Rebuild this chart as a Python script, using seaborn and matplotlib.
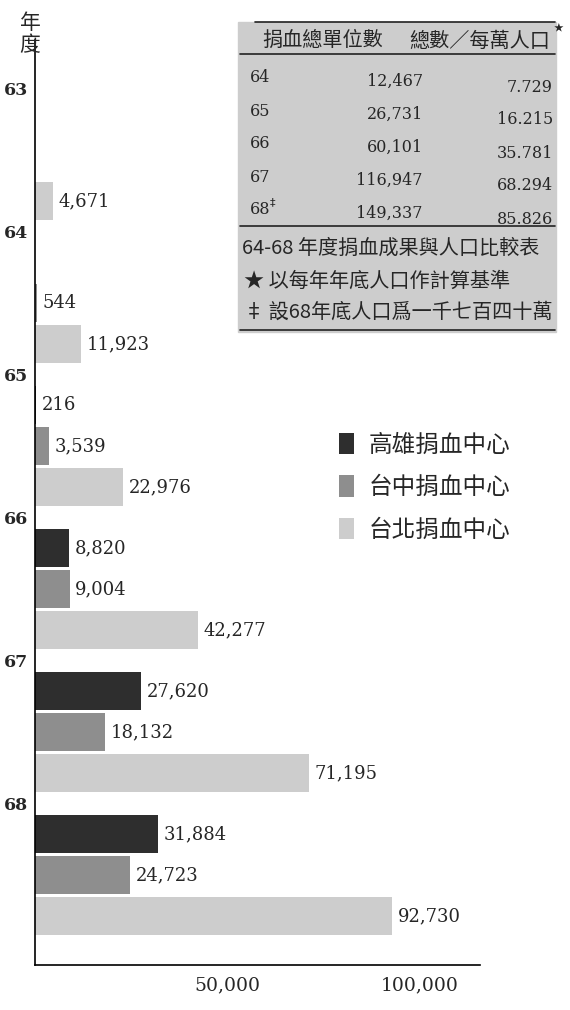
import numpy as np
import pandas as pd
import matplotlib
matplotlib.use('Agg')
from matplotlib import pyplot as plt
from matplotlib.patches import Rectangle
import seaborn as sns

# bar chart data (units of blood collected per center per year)
years = ['63', '64', '65', '66', '67', '68']
centers = ['高雄捐血中心', '台中捐血中心', '台北捐血中心']
kaohsiung = [np.nan, np.nan, 216, 8820, 27620, 31884]
taichung = [np.nan, 544, 3539, 9004, 18132, 24723]
taipei = [4671, 11923, 22976, 42277, 71195, 92730]

# comparison table
tbl_years = ['64', '65', '66', '67', '68']
tbl_totals = ['12,467', '26,731', '60,101', '116,947', '149,337']
tbl_per10k = ['7.729', '16.215', '35.781', '68.294', '85.826']

sns.set_style('white')
plt.rcParams['font.family'] = ['Noto Sans CJK TC', 'DejaVu Sans']
serif = 'DejaVu Serif'

df = pd.DataFrame({
    '年度': years * 3,
    '中心': np.repeat(centers, len(years)),
    '單位數': kaohsiung + taichung + taipei,
}).dropna()

palette = dict(zip(centers, ['#2e2e2e', '#8e8e8e', '#cdcdcd']))

fig = plt.figure(figsize=(5.7, 10.1), dpi=100)
ax = fig.add_axes([0.0614, 0.0446, 0.781, 0.916])
sns.barplot(data=df, y='年度', x='單位數', hue='中心', order=years,
            hue_order=centers, palette=palette, orient='h', width=0.86,
            errorbar=None, saturation=1, linewidth=0, ax=ax)

# thin white gaps between the stacked bars
for c in ax.containers:
    for p in c:
        h = p.get_height()
        p.set_y(p.get_y() + h * 0.04)
        p.set_height(h * 0.92)
    labs = ['' if np.isnan(v) else f'{v:,.0f}' for v in c.datavalues]
    ax.bar_label(c, labels=labs, padding=4, fontsize=13, family=serif)

ax.set_ylim(5.63, -0.84)
ax.set_yticks(np.arange(len(years)) - 0.5, years)
ax.set_xlim(0, 115600)
ax.set_xticks([50000, 100000], ['50,000', '100,000'])
ax.set_xlabel('')
ax.set_ylabel('')
ax.tick_params(axis='y', direction='out', length=3, width=1, pad=2, labelsize=12.5)
ax.tick_params(axis='x', direction='in', length=4, width=1, pad=8, labelsize=13.5)
for tl in ax.get_yticklabels():
    tl.set_family(serif)
    tl.set_fontweight('bold')
for tl in ax.get_xticklabels():
    tl.set_family(serif)
sns.despine(ax=ax)
for s in ['left', 'bottom']:
    ax.spines[s].set_color('black')
    ax.spines[s].set_linewidth(1.2)

sns.move_legend(ax, 'upper left', bbox_to_anchor=(0.636, 0.598), frameon=False,
                title=None, fontsize=17, handlelength=0.6, handleheight=1.0,
                labelspacing=0.8, handletextpad=0.65)

fig.text(30 / 570, 1 - 12 / 1010, '年\n度', fontsize=15, ha='center', va='top',
         linespacing=1.0)

# overlay in pixel coordinates for the table
ov = fig.add_axes([0, 0, 1, 1])
ov.set_xlim(0, 570)
ov.set_ylim(1010, 0)
ov.axis('off')
ov.add_patch(Rectangle((238, 22), 318, 310, color='#cdcdcd', zorder=0))
for y, x0 in [(22, 255), (54, 240), (226, 240), (330, 240)]:
    ov.plot([x0, 555], [y, y], color='#222222', lw=1.2)

ov.text(262, 40, '捐血總單位數', fontsize=14.5, va='center')
ov.text(550, 41, '總數／每萬人口', fontsize=14.5, va='center', ha='right')
ov.text(558, 28, '★', fontsize=7, va='center', ha='center')
for i, (yr, tot, per) in enumerate(zip(tbl_years, tbl_totals, tbl_per10k)):
    y = 78 + 33 * i
    ov.text(250, y, yr, fontsize=11.5, family=serif, va='center')
    ov.text(423, y + 3, tot, fontsize=11.5, family=serif, va='center', ha='right')
    ov.text(553, y + 9, per, fontsize=11.5, family=serif, va='center', ha='right')
ov.text(270, 202, '‡', fontsize=8, va='center', family=['DejaVu Sans'])

ov.text(242, 248, '64-68 年度捐血成果與人口比較表', fontsize=14.5, va='center')
ov.text(244, 281, '★ 以每年年底人口作計算基準', fontsize=14.5, va='center')
ov.text(244, 312, '‡ 設68年底人口爲一千七百四十萬', fontsize=14.5, va='center',
        family=['Noto Sans CJK TC', 'DejaVu Sans'])

fig.savefig('out.png', dpi=100)
